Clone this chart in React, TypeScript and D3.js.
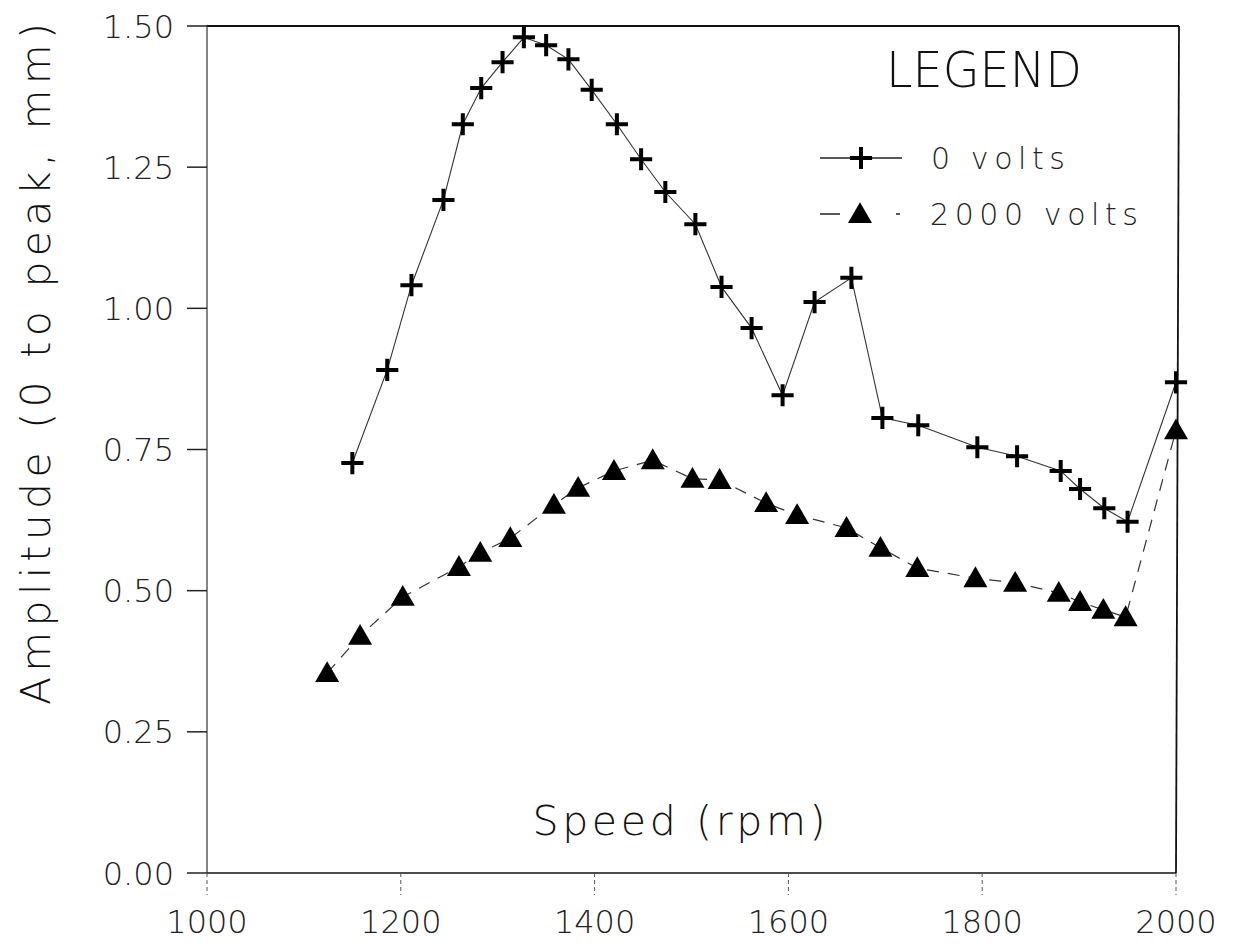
import React from 'react';
import * as d3 from 'd3';

// 0 volts series (crosses)
const speed0 = [1150, 1186, 1211, 1244, 1264, 1283, 1305, 1327, 1350, 1373, 1397, 1423, 1448, 1473, 1504, 1531, 1562, 1594, 1627, 1665, 1697, 1734, 1795, 1836, 1881, 1901, 1926, 1950, 2000];
const amp0 = [0.726, 0.891, 1.041, 1.192, 1.326, 1.39, 1.436, 1.48, 1.466, 1.441, 1.387, 1.326, 1.264, 1.206, 1.149, 1.038, 0.965, 0.846, 1.011, 1.054, 0.806, 0.793, 0.754, 0.738, 0.712, 0.68, 0.646, 0.622, 0.869];

// 2000 volts series (triangles)
const speed2000 = [1124, 1158, 1202, 1260, 1282, 1313, 1358, 1383, 1420, 1460, 1501, 1529, 1577, 1609, 1660, 1695, 1733, 1793, 1834, 1879, 1901, 1925, 1948, 2000];
const amp2000 = [0.354, 0.42, 0.489, 0.542, 0.567, 0.593, 0.652, 0.682, 0.712, 0.731, 0.698, 0.696, 0.655, 0.634, 0.611, 0.576, 0.54, 0.522, 0.514, 0.496, 0.48, 0.466, 0.453, 0.784];

const xTicks = [1000, 1200, 1400, 1600, 1800, 2000];
const yTicks = [0, 0.25, 0.5, 0.75, 1.0, 1.25, 1.5];
const legendLabels = ['0 volts', '2000 volts'];

const W = 1240, H = 949;
const font = '"DejaVu Sans", sans-serif';

export default function App() {
  const x = d3.scaleLinear().domain([1000, 2000]).range([207, 1176]);
  const y = d3.scaleLinear().domain([0, 1.5]).range([873, 26]);

  const pts0 = speed0.map((s, i) => [s, amp0[i]] as [number, number]);
  const pts2 = speed2000.map((s, i) => [s, amp2000[i]] as [number, number]);

  const line = d3.line<[number, number]>().x(d => x(d[0])).y(d => y(d[1]));
  // plus arms ~11px, triangle ~24px wide
  const plus = d3.symbol(d3.symbolPlus, 162)() as string;
  const tri = d3.symbol(d3.symbolTriangle, 250)() as string;

  const [x0, x1] = x.range();
  const [yb, yt] = y.range();

  return (
    <svg width={W} height={H} style={{ position: 'absolute', left: 0, top: 0, background: '#fff' }}
      fontFamily={font}>
      {/* frame */}
      <g stroke="#111" fill="none">
        <line x1={x0} x2={x1 + 3} y1={yt} y2={yt} strokeWidth={2} />
        <line x1={x1 + 3} x2={x1} y1={yt} y2={yb} strokeWidth={1.8} />
        <line x1={x0} x2={x1} y1={yb} y2={yb} strokeWidth={1.6} />
        <line x1={x0} x2={x0} y1={yt} y2={yb} strokeWidth={1.2} stroke="#333" />
      </g>

      {/* y axis */}
      <g>
        {yTicks.map(t => (
          <g key={t} transform={`translate(0,${y(t)})`}>
            <line x1={x0 - 20} x2={x0} stroke="#222" strokeWidth={1.5} />
            <text x={174} dy="0.36em" textAnchor="end" fontSize={32} fontWeight={200} fill="#222">
              {d3.format('.2f')(t)}
            </text>
          </g>
        ))}
      </g>

      {/* x axis */}
      <g>
        {xTicks.map(t => (
          <g key={t} transform={`translate(${x(t)},0)`}>
            <line y1={yb} y2={yb + 22} stroke="#555" strokeWidth={1} strokeDasharray="4 3" />
            <text y={933} textAnchor="middle" fontSize={32} fontWeight={200} fill="#222">{t}</text>
          </g>
        ))}
      </g>

      <text x={679} y={835} textAnchor="middle" fontSize={41} fontWeight={300} fill="#111"
        textLength={293} lengthAdjust="spacing">Speed (rpm)</text>
      <text transform="translate(50,364) rotate(-90)" textAnchor="middle" fontSize={41} fontWeight={300}
        fill="#111" textLength={682} lengthAdjust="spacing">Amplitude (0 to peak, mm)</text>

      {/* series lines */}
      <path d={line(pts0) ?? ''} fill="none" stroke="#333" strokeWidth={1.1} />
      <path d={line(pts2) ?? ''} fill="none" stroke="#333" strokeWidth={1.2} strokeDasharray="12 9" />

      {pts0.map((d, i) => (
        <path key={'p' + i} d={plus} transform={`translate(${x(d[0])},${y(d[1])})`}
          stroke="#000" strokeWidth={4} fill="none" />
      ))}
      {pts2.map((d, i) => (
        <path key={'t' + i} d={tri} transform={`translate(${x(d[0])},${y(d[1]) + 2})`} fill="#000" />
      ))}

      {/* legend */}
      <text x={886} y={87} fontSize={50} fontWeight={200} fill="#111" textLength={196}
        lengthAdjust="spacingAndGlyphs">LEGEND</text>
      <g transform="translate(0,158)">
        <line x1={820} x2={902} stroke="#222" strokeWidth={1.5} />
        <path d={plus} transform="translate(861,0)" stroke="#000" strokeWidth={4} fill="none" />
        <text x={931} dy="0.36em" fontSize={30} fontWeight={200} fill="#222" textLength={134}
          lengthAdjust="spacing">{legendLabels[0]}</text>
      </g>
      <g transform="translate(0,214)">
        <line x1={820} x2={902} stroke="#222" strokeWidth={1.5} strokeDasharray="20 56 4" />
        <path d={tri} transform="translate(860,2)" fill="#000" />
        <text x={930} dy="0.36em" fontSize={30} fontWeight={200} fill="#222" textLength={208}
          lengthAdjust="spacing">{legendLabels[1]}</text>
      </g>
    </svg>
  );
}
